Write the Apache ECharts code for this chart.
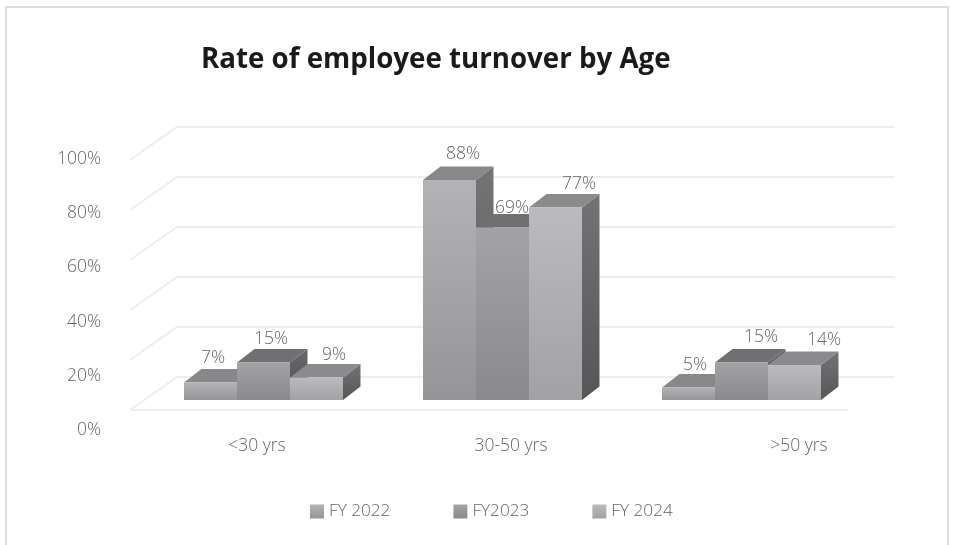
<!DOCTYPE html>
<html><head><meta charset="utf-8">
<style>html,body{margin:0;padding:0;background:#fff}#c{width:954px;height:545px}</style>
<script src="https://cdn.jsdelivr.net/npm/echarts@6/dist/echarts.min.js"></script>
</head><body><div id="c"></div>
<script>
const categories = ['<30 yrs', '30-50 yrs', '>50 yrs'];
const fy2022 = [7, 88, 5];
const fy2023 = [15, 69, 15];
const fy2024 = [9, 77, 14];
const seriesNames = ['FY 2022', 'FY2023', 'FY 2024'];
const tickValues = [0, 20, 40, 60, 80, 100];

// layout / style only
const FONT = '"Open Sans", sans-serif';
const TXT = '#666666';
const BAR_W = 53, DX = 17.5, DY = -13.5;
const labelShiftX = [[2.5, 7.5, 17.5], [13.5, 9.5, 23.5], [6.5, 19.5, 29.5]]; // by category, series
const labelShiftY = [[-24.5, -23.5, -22.5], [-26, -19.5, -23.5], [-22.5, -25.5, -25]];
const catLabelShift = [-6.5, 8.5, 57.5];
const styles = [
  {front: ['#b3b3b6', '#959597'], top: '#88888a', side: ['#747476', '#58585a']},
  {front: ['#a3a3a5', '#8a8a8c'], top: '#707072', side: ['#68686a', '#505052']},
  {front: ['#bbbbbe', '#a2a2a4'], top: '#8b8b8d', side: ['#737375', '#565658']}
];
const grad = (a, b) => new echarts.graphic.LinearGradient(0, 0, 0, 1, [{offset: 0, color: a}, {offset: 1, color: b}]);

function barSeries(name, values, si) {
  const st = styles[si];
  return {
    name, type: 'custom', xAxisIndex: 0, yAxisIndex: 0, z: 5, clip: false,
    itemStyle: {color: grad(st.front[0], st.front[1])},
    encode: {x: 0, y: 1},
    data: values.map((v, i) => [i, v]),
    renderItem(params, api) {
      const cat = api.value(0), val = api.value(1);
      const c = api.coord([cat, val]);
      const base = api.coord([cat, 0])[1];
      const x0 = c[0] - BAR_W * 1.5 + si * BAR_W, x1 = x0 + BAR_W, yt = c[1];
      return {type: 'group', children: [
        {type: 'polygon', shape: {points: [[x1, yt], [x1 + DX, yt + DY], [x1 + DX, base + DY], [x1, base]]},
          style: {fill: grad(st.side[0], st.side[1])}},
        {type: 'polygon', shape: {points: [[x0, yt], [x1, yt], [x1 + DX, yt + DY], [x0 + DX, yt + DY]]},
          style: {fill: st.top}},
        {type: 'rect', shape: {x: x0, y: yt, width: BAR_W, height: base - yt},
          style: {fill: grad(st.front[0], st.front[1])}},
        {type: 'text', z2: 10, style: {
          text: val + '%', x: (x0 + x1) / 2 + labelShiftX[cat][si], y: yt + labelShiftY[cat][si],
          align: 'center', verticalAlign: 'middle', fill: TXT,
          font: '300 17.5px ' + FONT}}
      ]};
    }
  };
}

const chart = echarts.init(document.getElementById('c'), null, {renderer: 'canvas'});
chart.setOption({
  animation: false,
  backgroundColor: '#fff',
  title: {text: 'Rate of employee turnover by Age', left: 196, top: 41,
    textStyle: {fontFamily: FONT, fontSize: 27.7, fontWeight: 'bold', color: '#1a1a1a'}},
  legend: {left: 305, top: 498, itemWidth: 14, itemHeight: 14, itemGap: 63, icon: 'rect',
    data: seriesNames,
    textStyle: {fontFamily: FONT, fontSize: 17.2, fontWeight: 300, color: TXT}},
  grid: [
    {left: 144, top: 150, width: 717, height: 250, containLabel: false},
    {left: 105, top: 159, width: 20, height: 271, containLabel: false}
  ],
  xAxis: [
    {type: 'category', gridIndex: 0, data: categories, axisLine: {show: false}, axisTick: {show: false},
      splitLine: {show: false},
      axisLabel: {margin: 37, interval: 0,
        formatter: (v, i) => `{c${i}|${v}}`,
        rich: Object.fromEntries(catLabelShift.map((s, i) => ['c' + i, {
          fontFamily: FONT, fontSize: 17.5, fontWeight: 300, color: TXT,
          padding: s >= 0 ? [0, 0, 0, 2 * s] : [0, -2 * s, 0, 0]}]))}},
    {type: 'category', gridIndex: 1, data: [], show: false}
  ],
  yAxis: [
    {type: 'value', gridIndex: 0, min: 0, max: 100, interval: 20, show: false},
    {type: 'value', gridIndex: 1, min: 0, max: 100, interval: 20,
      axisLine: {show: false}, axisTick: {show: false}, splitLine: {show: false},
      axisLabel: {margin: 4, formatter: '{value}%', fontFamily: FONT, fontSize: 17.5, fontWeight: 300, color: TXT}}
  ],
  graphic: [{type: 'rect', z: 0, silent: true, shape: {x: 6, y: 7, width: 942, height: 560},
    style: {fill: 'none', stroke: '#dcdcdc', lineWidth: 2}}],
  series: [
    {type: 'custom', name: 'walls', z: 1, clip: false, xAxisIndex: 0, yAxisIndex: 0,
      encode: {y: 0}, silent: true, legendHoverLink: false,
      data: tickValues.map(v => [v]),
      renderItem(params, api) {
        const y = api.coord([0, api.value(0)])[1];
        const ls = {stroke: '#ededed', lineWidth: 2, fill: 'none'};
        const kids = [
          {type: 'polyline', shape: {points: [[130, y + 10], [177, y - 23], [895, y - 23]]}, style: ls}
        ];
        if (api.value(0) === 0) kids.push({type: 'line', shape: {x1: 130, y1: y + 10, x2: 848, y2: y + 10}, style: ls});
        return {type: 'group', children: kids};
      }},
    barSeries(seriesNames[0], fy2022, 0),
    barSeries(seriesNames[1], fy2023, 1),
    barSeries(seriesNames[2], fy2024, 2)
  ]
});
</script></body></html>
